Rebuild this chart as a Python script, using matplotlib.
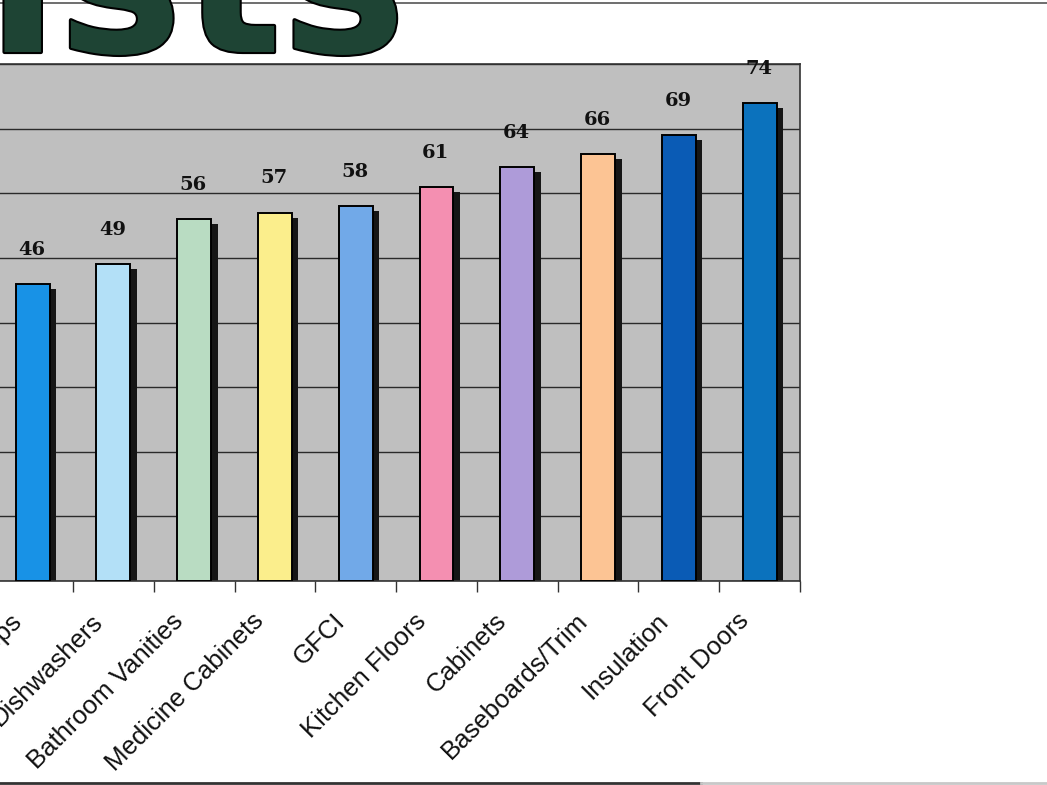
import numpy as np
import matplotlib.pyplot as plt
import matplotlib.patheffects as pe
import matplotlib.transforms as mtransforms

# survey items, ranked by count
categories = ['Countertops', 'Dishwashers', 'Bathroom Vanities',
              'Medicine Cabinets', 'GFCI', 'Kitchen Floors', 'Cabinets',
              'Baseboards/Trim', 'Insulation', 'Front Doors']
values = [46, 49, 56, 57, 58, 61, 64, 66, 69, 74]
bar_colors = ['#1892e6', '#b3e0f7', '#b9dcc2', '#fbee8c', '#71a9e8',
              '#f48fb1', '#ae9bd9', '#fcc494', '#0a5bb5', '#0b72bd']

W, H = 1047, 785
fig = plt.figure(figsize=(W / 100, H / 100), dpi=100)

# chart area
ax = fig.add_axes([-7.8 / W, 1 - 581 / H, 807.8 / W, 517 / H])
ax.set_facecolor('#bfbfbf')
ax.set_xlim(-0.5, len(categories) - 0.5)
ax.set_ylim(0, 80)

x = np.arange(len(categories))
bw = 0.42
dx = 6.5 / 80.8     # shadow offset, px -> data
dy = 5 / 6.46

ax.bar(x + dx, np.array(values) - dy, width=bw, color='#161616',
       edgecolor='none', zorder=2)
ax.bar(x, values, width=bw, color=bar_colors, edgecolor='black',
       linewidth=1.4, zorder=3)

for xi, v in zip(x, values):
    ax.annotate(str(v), (xi, v), xytext=(-0.5, 21), textcoords='offset points',
                ha='center', va='baseline', fontsize=14, fontweight='bold',
                family='DejaVu Serif', color='#111111', zorder=4)

ax.set_yticks(np.arange(0, 81, 10))
ax.yaxis.grid(True, color='#2a2a2a', linewidth=1.0, zorder=1)
ax.tick_params(axis='y', left=False, labelleft=False)

ax.set_xticks(x)
ax.set_xticklabels(categories, rotation=45, ha='right',
                   rotation_mode='anchor', fontsize=18.5,
                   family='Liberation Sans', color='#111111')
ax.tick_params(axis='x', which='major', length=0, pad=23)
# nudge the slanted labels so they end just left of each bar
shift = mtransforms.ScaledTranslation(-0.23, 0.04, fig.dpi_scale_trans)
for lbl in ax.get_xticklabels():
    lbl.set_transform(lbl.get_transform() + shift)

ax.set_xticks(np.arange(0.5, len(categories), 1), minor=True)
ax.tick_params(axis='x', which='minor', length=8, width=1, color='#333333',
               direction='out')

for side in ['top', 'right', 'bottom']:
    ax.spines[side].set_color('#333333')
    ax.spines[side].set_linewidth(1.2)
ax.spines['left'].set_visible(False)

# page rules
fig.add_artist(plt.Line2D([0, 1], [1 - 3 / H, 1 - 3 / H], color='#555555',
                          linewidth=1.2, zorder=0))
fig.add_artist(plt.Line2D([0, 0.67], [1 - 783 / H, 1 - 783 / H],
                          color='#333333', linewidth=2))
fig.add_artist(plt.Line2D([0.67, 1], [1 - 783 / H, 1 - 783 / H],
                          color='#c8c8c8', linewidth=2))

# heading, mostly off the top of the page
fig.text(-13 / W, 1 - 52 / H, 'ists', fontsize=150, fontweight='bold',
         family='DejaVu Sans', color='#1e4434', ha='left', va='baseline',
         path_effects=[pe.withStroke(linewidth=3, foreground='black')],
         zorder=5)

fig.savefig('out.png', dpi=100)
